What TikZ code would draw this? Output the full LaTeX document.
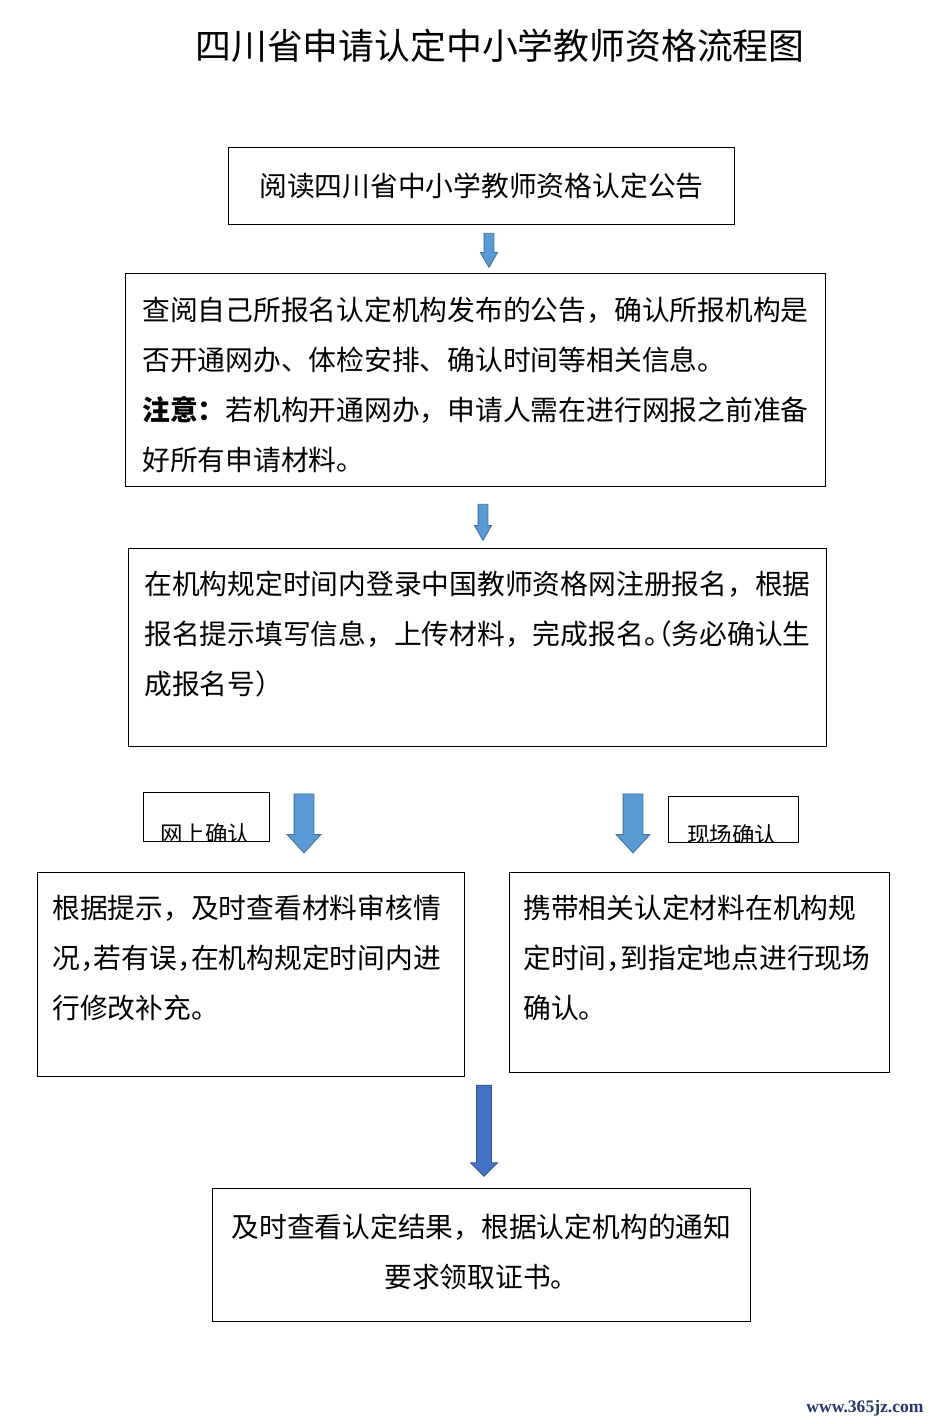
\documentclass[tikz,border=0pt]{standalone}
\usepackage{fontspec}
\setmainfont{Noto Sans CJK SC}
\newfontfamily\webfont{Liberation Serif}
\usetikzlibrary{positioning,shapes.arrows}
\definecolor{arrowfill}{RGB}{91,155,213}
\definecolor{arrowline}{RGB}{65,113,156}
\definecolor{bigfill}{RGB}{68,114,196}
\definecolor{bigline}{RGB}{47,82,143}
\definecolor{webblue}{RGB}{35,55,105}
% half-width punctuation
\newcommand{\hl}[1]{\makebox[0.5em][l]{#1}}
\newcommand{\hr}[1]{\makebox[0.5em][r]{#1}}

\begin{document}
\begin{tikzpicture}[x=0.02cm, y=-0.02cm,
  box/.style={draw, line width=0.6pt, anchor=north west, inner sep=0pt},
  txt/.style={font=\fontsize{15.8}{28.45}\selectfont, inner sep=0pt, align=left, anchor=north west},
  tag/.style={font=\fontsize{12.8}{15}\selectfont, inner sep=0pt},
  blockarrow/.style={single arrow, draw=arrowline, fill=arrowfill, line width=0.5pt, rotate=-90, inner xsep=0pt, single arrow head indent=0pt}]
  \path[use as bounding box, fill=white] (0,0) rectangle (930,1424);

  \node[font=\fontsize{20.4}{24}\selectfont] (title) at (500,46) {四川省申请认定中小学教师资格流程图};

  % boxes
  \node[box, minimum width=10.12cm, minimum height=1.54cm] (b1) at (228,147) {};
  \node[box, minimum width=14.00cm, minimum height=4.26cm] (b2) at (125,273) {};
  \node[box, minimum width=13.96cm, minimum height=3.96cm] (b3) at (128,548) {};
  \node[box, minimum width=8.54cm, minimum height=4.08cm] (b4) at (37,872) {};
  \node[box, minimum width=7.60cm, minimum height=4.00cm] (b5) at (509,872) {};
  \node[box, minimum width=10.76cm, minimum height=2.66cm] (b6) at (212,1188) {};

  % texts
  \node[txt, anchor=center] (t1) at (b1.center) {阅读四川省中小学教师资格认定公告};
  \node[txt] (t2) at ([shift={(17,24)}]b2.north west) {查阅自己所报名认定机构发布的公告，确认所报机构是\\否开通网办、体检安排、确认时间等相关信息。\\\textbf{注意：}若机构开通网办，申请人需在进行网报之前准备\\好所有申请材料。};
  \node[txt] (t3) at ([shift={(16,23)}]b3.north west) {在机构规定时间内登录中国教师资格网注册报名，根据\\报名提示填写信息，上传材料，完成报名\hl{。}\hr{（}务必确认生\\成报名号）};
  \node[txt] (t4) at ([shift={(15,23)}]b4.north west) {根据提示，及时查看材料审核情\\况\hl{，}若有误\hl{，}在机构规定时间内进\\行修改补充。};
  \node[txt] (t5) at ([shift={(14,23)}]b5.north west) {携带相关认定材料在机构规\\定时间\hl{，}到指定地点进行现场\\确认。};
  \node[txt, align=center, anchor=center] (t6) at ([shift={(0,-3)}]b6.center) {及时查看认定结果，根据认定机构的通知\\要求领取证书。};

  % small tags, text cut by the box
  \begin{scope}
    \clip (143,792) rectangle (269,841);
    \node[tag] (tl) at (205,834) {网上确认};
  \end{scope}
  \node[box, minimum width=2.52cm, minimum height=0.98cm] (bl) at (143,792) {};
  \begin{scope}
    \clip (668,796) rectangle (798,842);
    \node[tag] (tr) at (732,835) {现场确认};
  \end{scope}
  \node[box, minimum width=2.60cm, minimum height=0.92cm] (br) at (668,796) {};

  % block arrows
  \node[blockarrow, minimum height=0.68cm, inner ysep=0.09cm, single arrow head extend=0.07cm, single arrow tip angle=60] (a1) at (489,246) {};
  \node[blockarrow, minimum height=0.72cm, inner ysep=0.09cm, single arrow head extend=0.07cm, single arrow tip angle=60] (a2) at (483,518) {};
  \node[blockarrow, minimum height=1.18cm, inner ysep=0.19cm, single arrow head extend=0.14cm, single arrow tip angle=85] (a3) at (304,818) {};
  \node[blockarrow, minimum height=1.18cm, inner ysep=0.19cm, single arrow head extend=0.14cm, single arrow tip angle=85] (a4) at (633,818) {};
  \node[blockarrow, draw=bigline, fill=bigfill, minimum height=1.82cm, inner ysep=0.14cm, single arrow head extend=0.12cm, single arrow tip angle=90] (a5) at (484,1127) {};

  \node[font=\webfont\bfseries\fontsize{10}{12}\selectfont, text=webblue] (web) at (865,1408) {www.365jz.com};
\end{tikzpicture}
\end{document}
